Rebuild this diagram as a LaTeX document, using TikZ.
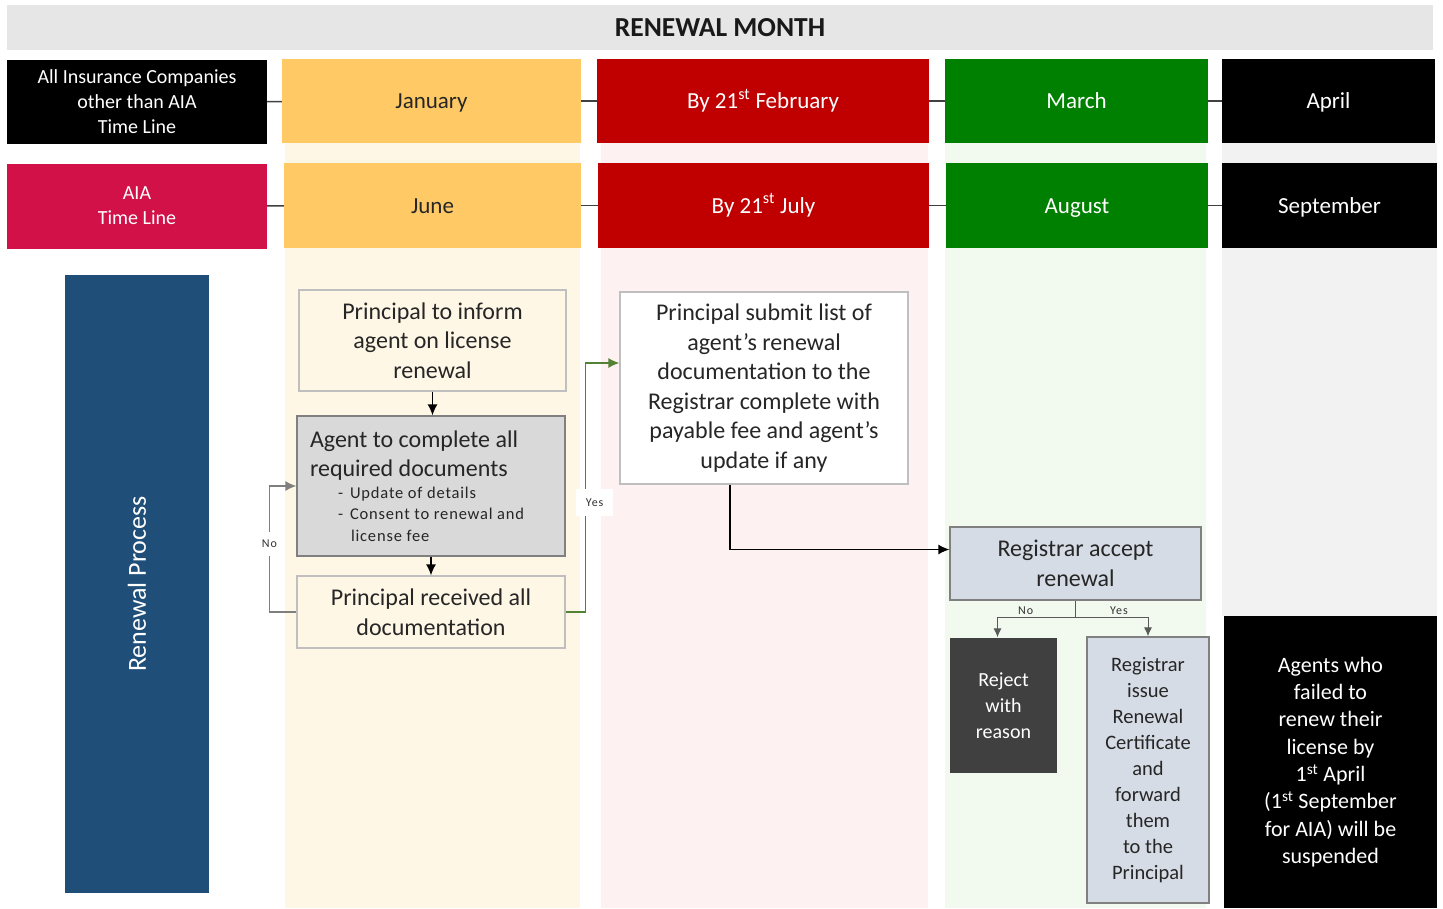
\documentclass[tikz,border=0pt]{standalone}
\usepackage{fontspec}
\setmainfont{Carlito}
\usetikzlibrary{arrows.meta}
\definecolor{hdrgray}{HTML}{E6E6E6}
\definecolor{monthyel}{HTML}{FFCA66}
\definecolor{monthred}{HTML}{C00000}
\definecolor{monthgreen}{HTML}{008000}
\definecolor{aiared}{HTML}{D11147}
\definecolor{procblue}{HTML}{1F4E79}
\definecolor{janbg}{HTML}{FFF7E6}
\definecolor{febbg}{HTML}{FDF1F1}
\definecolor{marbg}{HTML}{F2FAEF}
\definecolor{aprbg}{HTML}{F2F2F2}
\definecolor{boxline}{HTML}{BFBFBF}
\definecolor{darkline}{HTML}{808080}
\definecolor{agentgray}{HTML}{D9D9D9}
\definecolor{regblue}{HTML}{D6DCE5}
\definecolor{rejgray}{HTML}{404040}
\definecolor{linkgray}{HTML}{404040}
\definecolor{nogray}{HTML}{7F7F7F}
\definecolor{yesgreen}{HTML}{548235}
\definecolor{splitgray}{HTML}{595959}
\begin{document}
\begin{tikzpicture}[x=1pt, y=-1pt]
      \tikzset{month/.style={minimum height=84pt, inner sep=0pt, align=center, text=white, font=\fontsize{23}{28}\selectfont},
      	oneline/.style={text height=17pt, text depth=2pt},
      	procbox/.style={draw=boxline, line width=1.3pt, inner sep=0pt, align=center, text=black!85, font=\fontsize{24}{29.5}\selectfont},
      	link/.style={line width=1.5pt, draw=linkgray},
      	flow/.style={-{Latex[length=11pt, width=10pt]}, line width=1.3pt},
      	split/.style={-{Latex[length=9pt, width=8pt]}, line width=1pt, draw=splitgray},
      	tag/.style={inner sep=3pt, text=black!80, font=\fontsize{12}{14}\selectfont\addfontfeature{LetterSpace=8}}}
      \useasboundingbox (0,0) rectangle (1443,908);
%% Column shading
      \fill[janbg] (285,143) rectangle (580,908);
      \fill[febbg] (601,143) rectangle (928,908);
      \fill[marbg] (945,143) rectangle (1206,908);
      \fill[aprbg] (1222,143) rectangle (1437,616);
%% Header
      \node[fill=hdrgray, minimum width=1426pt, minimum height=45pt, inner sep=0pt, text=black!90, font=\fontsize{27.5}{30}\selectfont\bfseries] (title) at (720,27.5) {RENEWAL MONTH};
%% Time lines
	%other companies
      	\node[month, fill=black, minimum width=260pt, font=\fontsize{20}{25}\selectfont] (other) at (137,102) {All Insurance Companies\\other than AIA\\Time Line};
      	\node[month, oneline, fill=monthyel, minimum width=299pt, text=black!85] (jan) at (431.5,101) {January};
      	\node[month, oneline, fill=monthred, minimum width=332pt] (feb) at (763,101) {By 21\textsuperscript{st} February};
      	\node[month, oneline, fill=monthgreen, minimum width=263pt] (mar) at (1076.5,101) {March};
      	\node[month, oneline, fill=black, minimum width=213pt] (apr) at (1328.5,101) {April};
	%AIA
      	\node[month, fill=aiared, minimum width=260pt, minimum height=85pt, font=\fontsize{20}{25}\selectfont] (aia) at (137,206) {AIA\\Time Line};
      	\node[month, oneline, fill=monthyel, minimum width=297pt, minimum height=85pt, text=black!85] (jun) at (432.5,205.5) {June};
      	\node[month, oneline, fill=monthred, minimum width=331pt, minimum height=85pt] (jul) at (763.5,205.5) {By 21\textsuperscript{st} July};
      	\node[month, oneline, fill=monthgreen, minimum width=262pt, minimum height=85pt] (aug) at (1077,205.5) {August};
      	\node[month, oneline, fill=black, minimum width=215pt, minimum height=85pt] (sep) at (1329.5,205.5) {September};
      	\path[link] (other) edge (jan) (jan) edge (feb) (feb) edge (mar) (mar) edge (apr);
      	\path[link] (aia) edge (jun) (jun) edge (jul) (jul) edge (aug) (aug) edge (sep);
%% Process
      \node[fill=procblue, rotate=90, minimum width=618pt, minimum height=144pt, inner sep=0pt, text=white, font=\fontsize{26}{30}\selectfont] (proc) at (137,584) {Renewal Process};
	%January
      	\node[procbox, fill=janbg, minimum width=267pt, minimum height=101pt] (inform) at (432.5,340.5) {Principal to inform\\agent on license\\renewal};
      	\node[procbox, draw=darkline, fill=agentgray, minimum width=268pt, minimum height=140pt, text width=242pt, align=flush left] (agent) at (431,486) {{\fontsize{24}{29}\selectfont Agent to complete all\\required documents\par}
      		{\fontsize{16.5}{21.5}\selectfont\addfontfeature{LetterSpace=5}\hspace*{28pt}-\hspace{7pt}Update of details\\\hspace*{28pt}-\hspace{7pt}Consent to renewal and\\\hspace*{41pt}license fee\par}};
      	\node[procbox, fill=janbg, minimum width=268pt, minimum height=72pt] (recv) at (431,612) {Principal received all\\documentation};
	%February
      	\node[procbox, fill=white, minimum width=288pt, minimum height=192pt] (submit) at (764,388) {Principal submit list of\\agent’s renewal\\documentation to the\\Registrar complete with\\payable fee and agent’s\\update if any};
	%March
      	\node[procbox, draw=darkline, fill=regblue, minimum width=251pt, minimum height=73pt] (accept) at (1075.5,563.5) {Registrar accept\\renewal};
      	\node[procbox, draw=none, fill=rejgray, text=white, minimum width=107pt, minimum height=135pt, font=\fontsize{20}{26}\selectfont] (reject) at (1003.5,705.5) {Reject\\with\\reason};
      	\node[procbox, draw=darkline, fill=regblue, minimum width=122pt, minimum height=266pt, font=\fontsize{20.5}{26}\selectfont] (issue) at (1148,770) {Registrar\\issue\\Renewal\\Certificate\\and\\forward\\them\\to the\\Principal};
	%April
      	\node[procbox, draw=none, fill=black, text=white, minimum width=213pt, minimum height=292pt, font=\fontsize{22}{27.3}\selectfont] (susp) at (1330.5,762) {Agents who\\failed to\\renew their\\license by\\1\textsuperscript{st} April\\(1\textsuperscript{st} September\\for AIA) will be\\suspended};
%Edges
      	\draw[flow] (inform.south) -- (inform.south |- agent.north);
      	\draw[flow] (agent) -- (recv);
      	\draw[flow, draw=nogray] (recv.west) -- ++(-27,0) |- node[tag, fill=white, inner xsep=6pt, inner ysep=8pt, pos=0.27] {No} (agent.west);
      	\draw[flow, draw=yesgreen] (recv.east) -- ++(20,0) |- node[tag, fill=white, inner xsep=10pt, inner ysep=10pt, xshift=9pt, pos=0.22] {Yes} ([yshift=25pt]submit.west);
      	\draw[flow] ([xshift=-34pt]submit.south) |- ([yshift=14pt]accept.west);
      	\draw[line width=1pt, draw=splitgray] (accept.south) -- ++(0,17) coordinate (fork);
      	\draw[split] (fork) -| node[tag, above, pos=0.32] {No} ([xshift=-6pt]reject.north);
      	\draw[split] (fork) -| node[tag, above, pos=0.3] {Yes} (issue.north);
\end{tikzpicture}
\end{document}
